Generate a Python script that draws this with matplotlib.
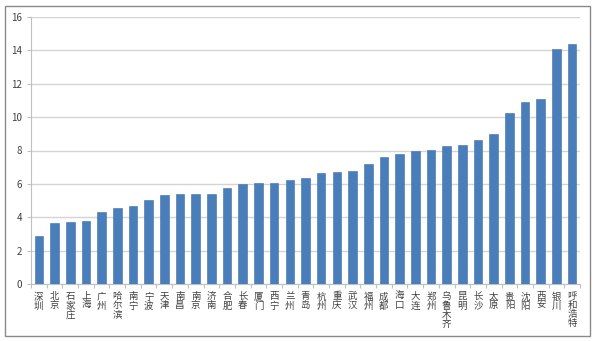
import matplotlib.pyplot as plt
from matplotlib.patches import Rectangle

plt.rcParams['font.family'] = ['Noto Sans CJK SC', 'DejaVu Sans']

ciudades = ['深圳', '北京', '石家庄', '上海', '广州', '哈尔滨', '南宁', '宁波', '天津', '南昌',
            '南京', '济南', '合肥', '长春', '厦门', '西宁', '兰州', '青岛', '杭州', '重庆',
            '武汉', '福州', '成都', '海口', '大连', '郑州', '乌鲁木齐', '昆明', '长沙', '太原',
            '贵阳', '沈阳', '西安', '银川', '呼和浩特']
valores = [2.87, 3.63, 3.69, 3.75, 4.3, 4.56, 4.67, 5.03, 5.34, 5.41,
           5.4, 5.41, 5.75, 6.0, 6.05, 6.08, 6.25, 6.35, 6.65, 6.7,
           6.8, 7.2, 7.6, 7.8, 7.95, 8.05, 8.28, 8.32, 8.63, 8.98,
           10.27, 10.92, 11.08, 14.1, 14.37]
yticks = [0, 2, 4, 6, 8, 10, 12, 14, 16]

fig = plt.figure(figsize=(5.97, 3.41), dpi=100)
ax = fig.add_axes([31/597, 1-284/341, 549/597, 267/341])

x = range(len(ciudades))
ax.bar(x, valores, width=0.55, color='#4a7ebb', edgecolor='#3f6fa8', linewidth=0.4, zorder=3)

ax.set_xlim(-0.5, len(ciudades) - 0.5)
ax.set_ylim(0, 16)
ax.set_yticks(yticks)
ax.yaxis.grid(True, color='#d4d4d4', linewidth=1.0, zorder=0)
ax.tick_params(axis='y', labelsize=7, colors='#404040', length=3, color='#c0c0c0')
ax.set_xticks([i + 0.5 for i in range(-1, len(ciudades))])
ax.set_xticklabels([])
ax.tick_params(axis='x', length=3, color='#c0c0c0', direction='out')
for i, c in enumerate(ciudades):
    ax.text(i, -0.5, '\n'.join(c), ha='center', va='top', fontsize=6.8,
            linespacing=1.0, color='#404040')

for lado in ['top', 'right']:
    ax.spines[lado].set_visible(False)
ax.spines['left'].set_color('#c0c0c0')
ax.spines['bottom'].set_color('#c0c0c0')

fig.patches.append(Rectangle((5/597, 1-336/341), 585/597, 330/341, transform=fig.transFigure,
                             fill=False, edgecolor='#8a8a8a', linewidth=1.0))

plt.savefig('out.png', dpi=100)
